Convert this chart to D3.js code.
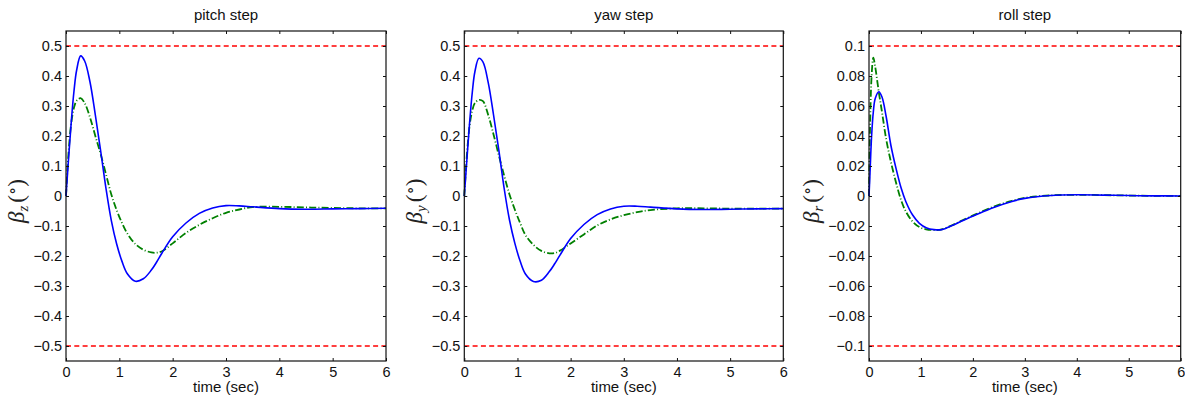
<!DOCTYPE html>
<html>
<head>
<meta charset="utf-8">
<script src="https://cdn.jsdelivr.net/npm/d3@7"></script>
<style>
  body { margin: 0; background: #fff; }
  svg { display: block; }
</style>
</head>
<body>
<svg id="chart" width="1185" height="399"></svg>
<script>
// Step responses of the sideslip angle beta (deg) for pitch, yaw and roll commands.
// Solid = first controller, dash-dot = second controller.

const pitchTime = [0, 0.05, 0.1, 0.15, 0.2, 0.275, 0.35, 0.45, 0.55, 0.65, 0.75, 0.85, 0.95, 1.05, 1.15, 1.3, 1.45, 1.6, 1.7, 1.8, 2.0, 2.25, 2.5, 2.75, 3.0, 3.25, 3.5, 4.0, 4.5, 5.0, 5.5, 6.0];
const pitchSolid = [0, 0.13, 0.25, 0.35, 0.42, 0.467, 0.45, 0.38, 0.27, 0.15, 0.025, -0.082, -0.16, -0.218, -0.259, -0.284, -0.276, -0.247, -0.22, -0.19, -0.136, -0.09, -0.058, -0.04, -0.032, -0.033, -0.036, -0.042, -0.044, -0.043, -0.042, -0.041];
const pitchDashDot = [0, 0.15, 0.245, 0.295, 0.318, 0.326, 0.31, 0.262, 0.2, 0.14, 0.072, 0.005, -0.047, -0.09, -0.125, -0.16, -0.179, -0.188, -0.189, -0.184, -0.158, -0.123, -0.096, -0.074, -0.056, -0.045, -0.037, -0.036, -0.038, -0.04, -0.041, -0.041];

const yawTime = [0, 0.05, 0.1, 0.15, 0.2, 0.275, 0.35, 0.45, 0.55, 0.65, 0.75, 0.85, 0.95, 1.05, 1.15, 1.3, 1.45, 1.6, 1.7, 1.8, 2.0, 2.25, 2.5, 2.75, 3.0, 3.25, 3.5, 4.0, 4.5, 5.0, 5.5, 6.0];
const yawSolid = [0, 0.125, 0.245, 0.345, 0.415, 0.459, 0.447, 0.378, 0.27, 0.152, 0.025, -0.08, -0.157, -0.217, -0.26, -0.285, -0.281, -0.252, -0.226, -0.197, -0.142, -0.095, -0.062, -0.043, -0.034, -0.034, -0.037, -0.043, -0.045, -0.044, -0.043, -0.042];
const yawDashDot = [0, 0.14, 0.235, 0.285, 0.31, 0.32, 0.316, 0.27, 0.205, 0.135, 0.068, 0.005, -0.045, -0.09, -0.13, -0.163, -0.183, -0.191, -0.19, -0.182, -0.158, -0.128, -0.098, -0.078, -0.064, -0.054, -0.047, -0.041, -0.041, -0.042, -0.042, -0.042];

const rollTime = [0, 0.02, 0.05, 0.083, 0.12, 0.19, 0.25, 0.33, 0.42, 0.52, 0.62, 0.71, 0.84, 0.97, 1.1, 1.25, 1.4, 1.6, 1.8, 2.06, 2.4, 2.75, 3.0, 3.5, 4.0, 4.5, 5.0, 5.5, 6.0];
const rollSolid = [0, 0.016, 0.04, 0.056, 0.065, 0.0695, 0.066, 0.053, 0.034, 0.0184, 0.0051, -0.0038, -0.0127, -0.0182, -0.0211, -0.0224, -0.0224, -0.0197, -0.0165, -0.0125, -0.0076, -0.0036, -0.0016, 0.0003, 0.0008, 0.0006, 0.0003, 0.0001, 0];
const rollDashDot = [0, 0.045, 0.08, 0.0922, 0.086, 0.069, 0.056, 0.038, 0.023, 0.009, -0.003, -0.0104, -0.0171, -0.0207, -0.0222, -0.0227, -0.0222, -0.0195, -0.0162, -0.0121, -0.0071, -0.0032, -0.0012, 0.0004, 0.0008, 0.0006, 0.0003, 0.0001, 0];

const timeTicks = [0, 1, 2, 3, 4, 5, 6];
const angleTicks = [0.5, 0.4, 0.3, 0.2, 0.1, 0, -0.1, -0.2, -0.3, -0.4, -0.5];
const rollTicks = [0.1, 0.08, 0.06, 0.04, 0.02, 0, -0.02, -0.04, -0.06, -0.08, -0.1];

const titles = ["pitch step", "yaw step", "roll step"];
const subscripts = ["z", "y", "r"];
const limits = [0.5, 0.5, 0.1];
const yExtents = [0.55, 0.55, 0.11];
const timeLabel = "time (sec)";

const panels = [
  { title: titles[0], sub: subscripts[0], limit: limits[0], extent: yExtents[0], ticks: angleTicks, time: pitchTime, solid: pitchSolid, dashDot: pitchDashDot },
  { title: titles[1], sub: subscripts[1], limit: limits[1], extent: yExtents[1], ticks: angleTicks, time: yawTime, solid: yawSolid, dashDot: yawDashDot },
  { title: titles[2], sub: subscripts[2], limit: limits[2], extent: yExtents[2], ticks: rollTicks, time: rollTime, solid: rollSolid, dashDot: rollDashDot }
];

// layout
const frames = [
  { left: 66, right: 386, labelOffset: 42 },
  { left: 464.3, right: 783.3, labelOffset: 42 },
  { left: 869, right: 1180.7, labelOffset: 50 }
];
const plotTop = 31, plotBottom = 361;
const sansFont = "'Liberation Sans', Arial, Helvetica, sans-serif";
const serifFont = "'Liberation Serif', 'DejaVu Serif', serif";
const inkColor = "#111";

const svg = d3.select("#chart");
const fmt = d3.format("~g");

panels.forEach((p, i) => {
  const f = frames[i];
  const x = d3.scaleLinear().domain([0, 6]).range([f.left, f.right]);
  const y = d3.scaleLinear().domain([-p.extent, p.extent]).range([plotBottom, plotTop]);
  const g = svg.append("g");

  // limit lines
  g.selectAll("line.limit")
    .data([p.limit, -p.limit])
    .join("line")
    .attr("class", "limit")
    .attr("x1", f.left).attr("x2", f.right)
    .attr("y1", d => y(d)).attr("y2", d => y(d))
    .attr("stroke", "#ff0000")
    .attr("stroke-width", 1.3)
    .attr("stroke-dasharray", "5,3.3");

  const line = d3.line()
    .x((d, k) => x(p.time[k]))
    .y(d => y(d))
    .curve(d3.curveCatmullRom.alpha(0.5));

  g.append("path")
    .datum(p.dashDot)
    .attr("d", line)
    .attr("fill", "none")
    .attr("stroke", "#008000")
    .attr("stroke-width", 1.8)
    .attr("stroke-dasharray", "7,2.2,1,2.2");

  g.append("path")
    .datum(p.solid)
    .attr("d", line)
    .attr("fill", "none")
    .attr("stroke", "#0000ff")
    .attr("stroke-width", 1.6);

  // axes with inward ticks
  const bottomAxis = d3.axisBottom(x).tickValues(timeTicks).tickFormat(fmt)
    .tickSizeInner(-3).tickSizeOuter(0).tickPadding(6);
  const topAxis = d3.axisTop(x).tickValues(timeTicks).tickFormat("")
    .tickSizeInner(-3).tickSizeOuter(0);
  const leftAxis = d3.axisLeft(y).tickValues(p.ticks).tickFormat(fmt)
    .tickSizeInner(-3).tickSizeOuter(0).tickPadding(4);
  const rightAxis = d3.axisRight(y).tickValues(p.ticks).tickFormat("")
    .tickSizeInner(-3).tickSizeOuter(0);

  const styleAxis = sel => {
    sel.select(".domain").remove();
    sel.selectAll(".tick line").attr("stroke", inkColor);
    sel.selectAll(".tick text").attr("fill", inkColor)
      .attr("font-family", sansFont).attr("font-size", 14.5);
  };

  g.append("g").attr("transform", `translate(0,${plotBottom})`).call(bottomAxis).call(styleAxis);
  g.append("g").attr("transform", `translate(0,${plotTop})`).call(topAxis).call(styleAxis);
  g.append("g").attr("transform", `translate(${f.left},0)`).call(leftAxis).call(styleAxis);
  g.append("g").attr("transform", `translate(${f.right},0)`).call(rightAxis).call(styleAxis);

  // frame
  g.append("rect")
    .attr("x", f.left).attr("y", plotTop)
    .attr("width", f.right - f.left).attr("height", plotBottom - plotTop)
    .attr("fill", "none")
    .attr("stroke", inkColor)
    .attr("stroke-width", 1.2);

  // title
  g.append("text")
    .attr("x", (f.left + f.right) / 2).attr("y", 20)
    .attr("text-anchor", "middle")
    .attr("font-family", sansFont).attr("font-size", 15)
    .attr("fill", inkColor)
    .text(p.title);

  // x label
  g.append("text")
    .attr("x", (f.left + f.right) / 2).attr("y", 392)
    .attr("text-anchor", "middle")
    .attr("font-family", sansFont).attr("font-size", 15)
    .attr("fill", inkColor)
    .text(timeLabel);

  // y label: beta_sub (deg)
  const lab = g.append("text")
    .attr("transform", `translate(${f.left - f.labelOffset},${201}) rotate(-90)`)
    .attr("text-anchor", "middle")
    .attr("font-family", serifFont)
    .attr("fill", "#222");
  lab.append("tspan").attr("font-style", "italic").attr("font-size", 23).text("β");
  lab.append("tspan").attr("font-style", "italic").attr("font-size", 15).attr("dy", 4).text(p.sub);
  lab.append("tspan").attr("font-size", 23).attr("dy", -4).attr("dx", 3).text("(");
  lab.append("tspan").attr("font-size", 17).attr("dy", -6).text("∘");
  lab.append("tspan").attr("font-size", 23).attr("dy", 6).text(")");
});
</script>
</body>
</html>
